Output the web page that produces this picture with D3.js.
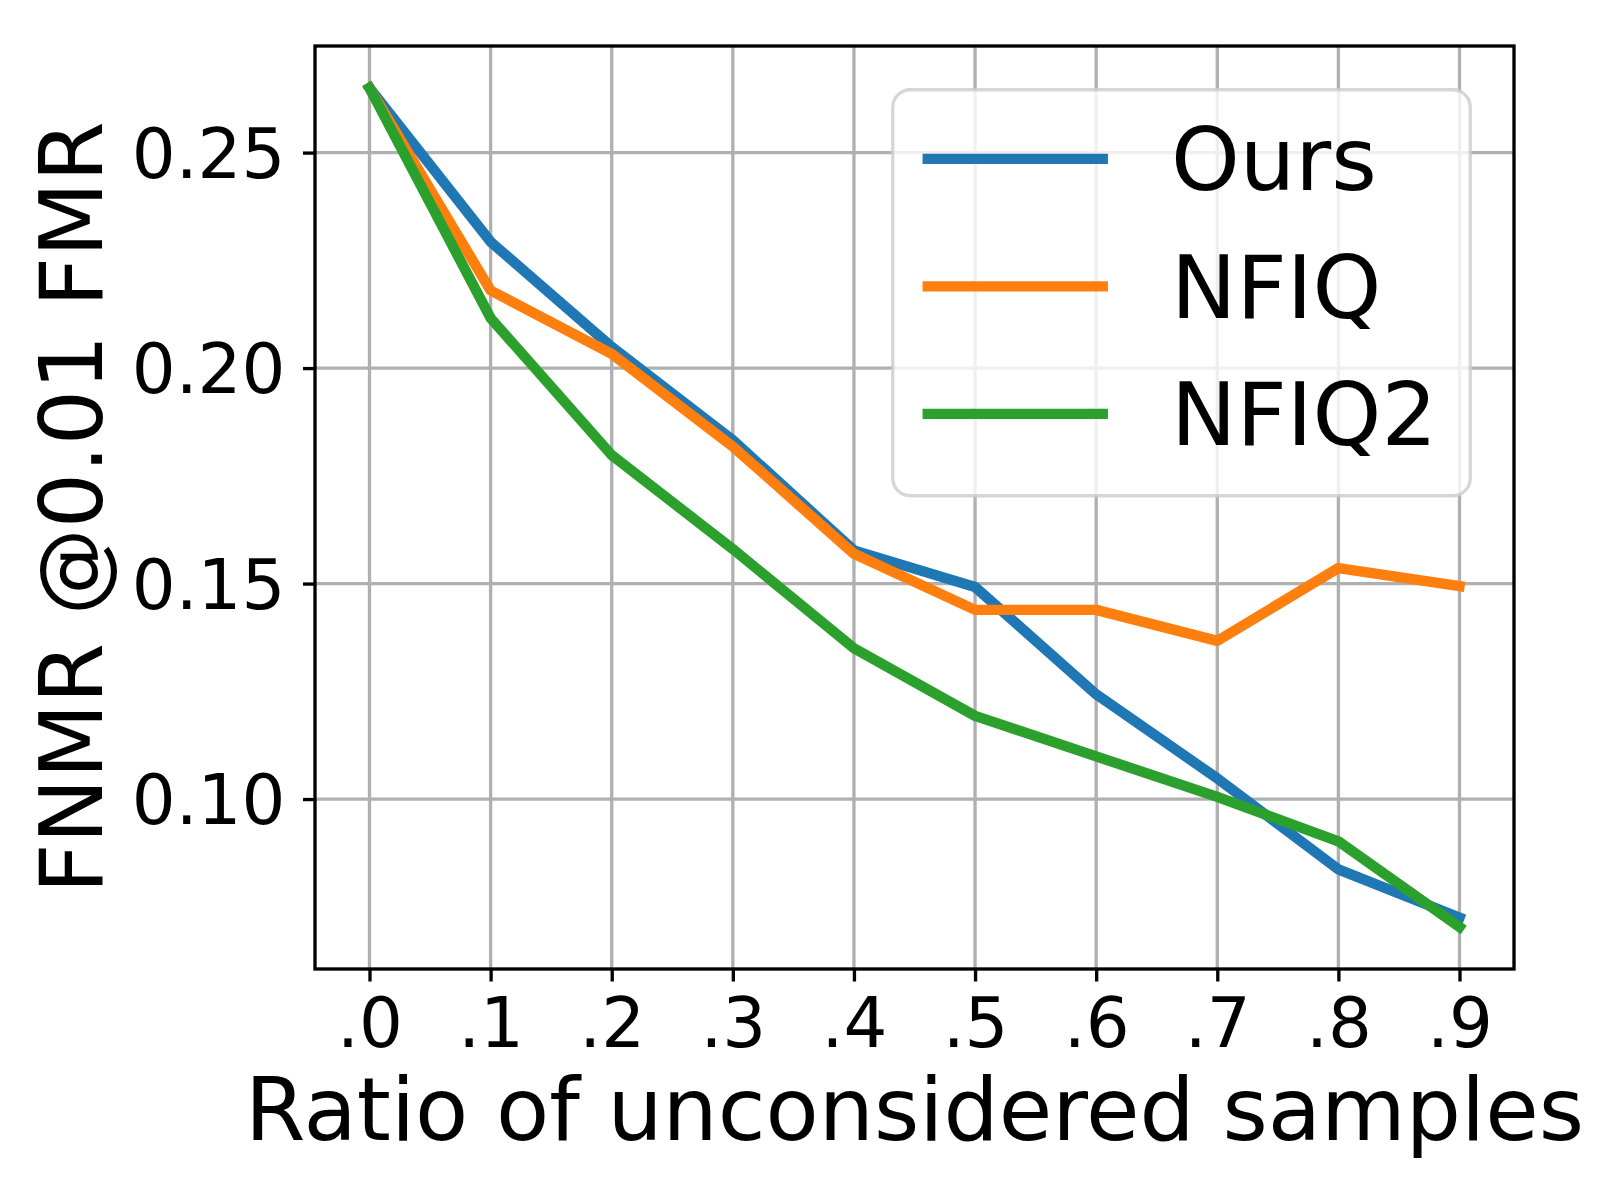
<!DOCTYPE html>
<html>
<head>
<meta charset="utf-8">
<script src="https://cdn.jsdelivr.net/npm/d3@7"></script>
<style>
  body { margin: 0; background: #fff; }
  svg { display: block; font-family: "DejaVu Sans", sans-serif; }
</style>
</head>
<body>
<div id="chart"></div>
<script>
// values
const ratios = [0.0, 0.1, 0.2, 0.3, 0.4, 0.5, 0.6, 0.7, 0.8, 0.9];
const xTickLabels = [".0", ".1", ".2", ".3", ".4", ".5", ".6", ".7", ".8", ".9"];
const yTickValues = [0.10, 0.15, 0.20, 0.25];
const yTickLabels = ["0.10", "0.15", "0.20", "0.25"];
const seriesNames = ["Ours", "NFIQ", "NFIQ2"];
const oursValues  = [0.265, 0.2293, 0.2049, 0.1833, 0.1577, 0.1492, 0.1243, 0.1048, 0.0837, 0.0725];
const nfiqValues  = [0.265, 0.2180, 0.2033, 0.1818, 0.1569, 0.1439, 0.1439, 0.1367, 0.1536, 0.1494];
const nfiq2Values = [0.265, 0.2116, 0.1798, 0.1580, 0.1350, 0.1193, 0.1099, 0.1005, 0.0902, 0.0703];
const xLabel = "Ratio of unconsidered samples";
const yLabel = "FNMR @0.01 FMR";

const W = 1600, H = 1200;
const margin = {top: 46, right: 86, bottom: 231, left: 315};
const width = W - margin.left - margin.right;
const height = H - margin.top - margin.bottom;
const lw = 3.33;          // spine / grid width
const tickFs = 69, labelFs = 87, legendFs = 87.5;

const series = seriesNames.map(function(name, i){
    return {name: name, values: [oursValues, nfiqValues, nfiq2Values][i]};
});
const colors = d3.scaleOrdinal().domain(seriesNames).range(d3.schemeCategory10);

const svg = d3.select("#chart").append("svg")
    .attr("width", W)
    .attr("height", H);
svg.append("rect").attr("width", W).attr("height", H).attr("fill", "#fff");

const g = svg.append("g").attr("transform", "translate(" + margin.left + "," + margin.top + ")");

// 5% padding around the data, like matplotlib
const xExt = d3.extent(ratios);
const xPad = (xExt[1] - xExt[0]) * 0.05;
const x = d3.scaleLinear().domain([xExt[0] - xPad, xExt[1] + xPad]).range([0, width]);
const allY = oursValues.concat(nfiqValues, nfiq2Values);
const yExt = d3.extent(allY);
const yPad = (yExt[1] - yExt[0]) * 0.05;
const y = d3.scaleLinear().domain([yExt[0] - yPad, yExt[1] + yPad]).range([height, 0]);

// grid
g.append("g").attr("class", "grid")
    .selectAll("line").data(ratios).enter().append("line")
    .attr("x1", d => x(d)).attr("x2", d => x(d))
    .attr("y1", 0).attr("y2", height)
    .attr("stroke", "#b0b0b0").attr("stroke-width", lw);
g.append("g").attr("class", "grid")
    .selectAll("line").data(yTickValues).enter().append("line")
    .attr("x1", 0).attr("x2", width)
    .attr("y1", d => y(d)).attr("y2", d => y(d))
    .attr("stroke", "#b0b0b0").attr("stroke-width", lw);

// lines
const line = d3.line()
    .x((d, i) => x(ratios[i]))
    .y(d => y(d));
g.selectAll("path.series").data(series).enter().append("path")
    .attr("class", "series")
    .attr("d", d => line(d.values))
    .attr("fill", "none")
    .attr("stroke", d => colors(d.name))
    .attr("stroke-width", 10.4)
    .attr("stroke-linejoin", "round")
    .attr("stroke-linecap", "square");

// axes
const xAxis = d3.axisBottom(x).tickValues(ratios)
    .tickFormat((d, i) => xTickLabels[i]).tickSizeOuter(0).tickSizeInner(12.5).tickPadding(15.5);
const yAxis = d3.axisLeft(y).tickValues(yTickValues)
    .tickFormat((d, i) => yTickLabels[i]).tickSizeOuter(0).tickSizeInner(12).tickPadding(17.6);

const gx = g.append("g").attr("transform", "translate(0," + height + ")").call(xAxis);
const gy = g.append("g").call(yAxis);
[gx, gy].forEach(function(a){
    a.select(".domain").remove();
    a.selectAll(".tick line").attr("stroke", "#000").attr("stroke-width", lw);
    a.selectAll(".tick text").attr("fill", "#000")
        .style("font-size", tickFs + "px")
        .style("font-family", "'DejaVu Sans', sans-serif");
});
gx.selectAll(".tick text").attr("dy", "0.73em");
gy.selectAll(".tick text").attr("dy", "0.36em");

// spines
g.append("rect")
    .attr("width", width).attr("height", height)
    .attr("fill", "none").attr("stroke", "#000").attr("stroke-width", lw);

// axis labels
g.append("text")
    .attr("x", width / 2).attr("y", 1140 - margin.top)
    .attr("text-anchor", "middle")
    .style("font-size", labelFs + "px")
    .text(xLabel);
g.append("text")
    .attr("transform", "translate(" + (102 - margin.left) + "," + (height / 2) + ") rotate(-90)")
    .attr("text-anchor", "middle")
    .style("font-size", labelFs + "px")
    .text(yLabel);

// legend, upper right
const fs = legendFs;
const legend = g.append("g");
const boxW = 6.6 * fs;
const boxH = 4.64 * fs;
const rowPitch = 1.457 * fs;
const boxX = width - 0.5 * fs - boxW;
const boxY = 0.5 * fs;
legend.append("rect")
    .attr("x", boxX).attr("y", boxY)
    .attr("width", boxW).attr("height", boxH)
    .attr("rx", 0.2 * fs).attr("ry", 0.2 * fs)
    .attr("fill", "rgba(255,255,255,0.8)")
    .attr("stroke", "rgba(204,204,204,0.8)")
    .attr("stroke-width", lw);
const rowY = (d, i) => boxY + 0.79 * fs + i * rowPitch;
legend.selectAll("line").data(series).enter().append("line")
    .attr("x1", boxX + 0.4 * fs).attr("x2", boxX + 2.4 * fs)
    .attr("y1", rowY).attr("y2", rowY)
    .attr("stroke", d => colors(d.name))
    .attr("stroke-width", 10.4)
    .attr("stroke-linecap", "square");
legend.selectAll("text").data(series).enter().append("text")
    .attr("x", boxX + 3.18 * fs)
    .attr("y", rowY)
    .attr("dy", "0.36em")
    .style("font-size", fs + "px")
    .text(d => d.name);
</script>
</body>
</html>
